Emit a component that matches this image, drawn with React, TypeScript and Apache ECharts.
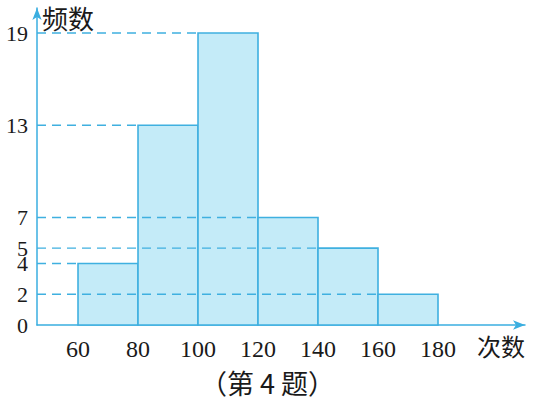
import React, { useEffect, useRef } from "react";
import * as echarts from "echarts";

const binStarts = [60, 80, 100, 120, 140, 160];
const binEnds = [80, 100, 120, 140, 160, 180];
const frequencies = [4, 13, 19, 7, 5, 2];
const xTickLabels = [60, 80, 100, 120, 140, 160, 180];
const yTickLabels = [0, 2, 4, 5, 7, 13, 19];
const xName = "次数";
const yName = "频数";
const caption = "（第 4 题）";

const AXIS = "#3aaee0";
const SERIF = "'Liberation Serif', 'Times New Roman', serif";
const CJK = "'Noto Sans CJK SC', sans-serif";

export default function App() {
  const ref = useRef<HTMLDivElement>(null);
  useEffect(() => {
    if (!ref.current) return;
    const chart = echarts.init(ref.current, null, { renderer: "svg" });
    const X_MIN = 46.33;
    const barData = binStarts.map((s, i) => [s, binEnds[i], frequencies[i]]);
    const lineData = binStarts.map((s, i) => [s, frequencies[i]]);
    chart.setOption({
      animation: false,
      backgroundColor: "#ffffff",
      grid: { left: 37, right: 9, top: 8, bottom: 88 },
      xAxis: {
        type: "value",
        min: X_MIN,
        max: 209,
        splitLine: { show: false },
        axisLine: {
          show: true,
          lineStyle: { color: AXIS, width: 1.5 },
          symbol: ["none", "arrow"],
          symbolSize: [7, 12],
        },
        axisTick: { show: false },
        axisLabel: {
          customValues: xTickLabels,
          color: "#1a1a1a",
          fontFamily: SERIF,
          fontSize: 24,
          margin: 12,
        },
      },
      yAxis: {
        type: "value",
        min: 0,
        max: 20.63,
        splitLine: { show: false },
        axisLine: {
          show: true,
          lineStyle: { color: AXIS, width: 1.5 },
          symbol: ["none", "arrow"],
          symbolSize: [7, 12],
        },
        axisTick: { show: false },
        axisLabel: {
          customValues: yTickLabels,
          color: "#1a1a1a",
          fontFamily: SERIF,
          fontSize: 22,
          lineHeight: 14,
          margin: 9,
        },
      },
      series: [
        {
          type: "custom",
          z: 2,
          data: barData,
          renderItem: (params: any, api: any) => {
            const p0 = api.coord([api.value(0), 0]);
            const p1 = api.coord([api.value(1), api.value(2)]);
            return {
              type: "rect",
              shape: { x: p0[0], y: p1[1], width: p1[0] - p0[0], height: p0[1] - p1[1] },
              style: { fill: "#c4ebf8", stroke: "#3fb0e0", lineWidth: 1.6 },
            };
          },
        },
        {
          type: "custom",
          z: 3,
          data: lineData,
          renderItem: (params: any, api: any) => {
            const a = api.coord([X_MIN, api.value(1)]);
            const b = api.coord([api.value(0), api.value(1)]);
            return {
              type: "line",
              shape: { x1: a[0], y1: a[1], x2: b[0], y2: b[1] },
              style: { stroke: "#3fb0e0", lineWidth: 1.4, lineDash: [9, 6] },
            };
          },
        },
      ],
      graphic: [
        {
          type: "text",
          left: 42,
          top: 4,
          style: { text: yName, font: `26px ${CJK}`, fill: "#1a1a1a" },
        },
        {
          type: "text",
          left: 477,
          top: 333,
          style: { text: xName, font: `24px ${CJK}`, fill: "#1a1a1a" },
        },
        {
          type: "text",
          left: 200,
          top: 369,
          style: { text: caption, font: `27px ${CJK}`, fill: "#1a1a1a" },
        },
      ],
    });
    return () => chart.dispose();
  }, []);
  return <div ref={ref} style={{ width: 534, height: 413, position: "absolute", left: 0, top: 0 }} />;
}
